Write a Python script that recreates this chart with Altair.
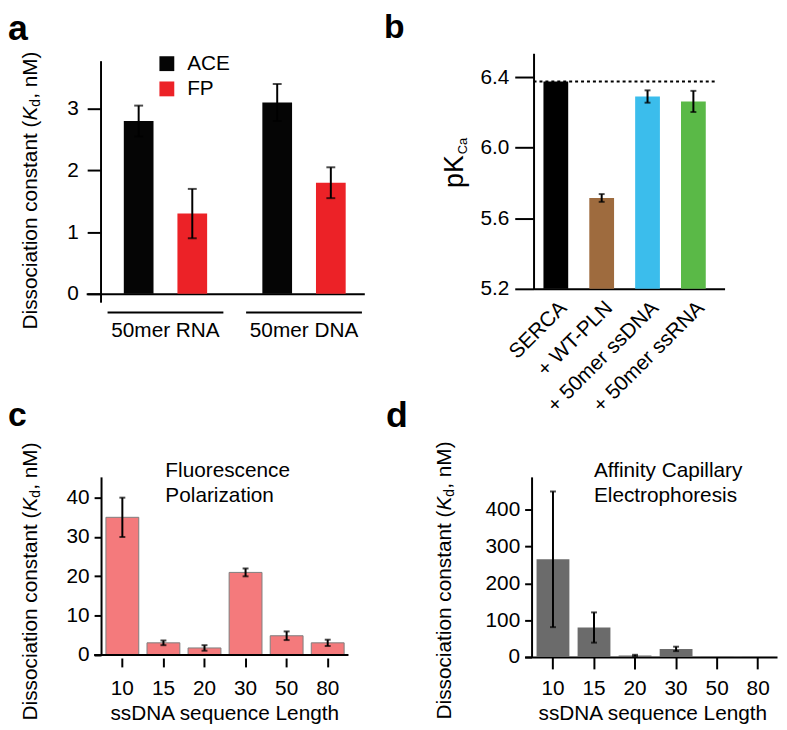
import altair as alt
import pandas as pd

FONT = "Liberation Sans"
INK = "#000000"

# ---------------- data ----------------
# panel a
a_groups = ["50mer RNA", "50mer DNA"]
a_series = ["ACE", "FP"]
a_ace = [2.8, 3.1]
a_ace_err = [0.25, 0.3]
a_fp = [1.3, 1.8]
a_fp_err = [0.4, 0.25]
a_colors = ["#050505", "#EC2227"]

# panel b
b_cats = ["SERCA", "+ WT-PLN", "+ 50mer ssDNA", "+ 50mer ssRNA"]
b_values = [6.375, 5.715, 6.29, 6.262]
b_errors = [0.0, 0.022, 0.035, 0.06]
b_colors = ["#000000", "#9E6B3E", "#3BBDEC", "#5AB947"]

# panels c and d
lengths = ["10", "15", "20", "30", "50", "80"]
c_values = [35, 3.1, 1.8, 21, 4.9, 3.1]
c_errors = [5, 0.6, 0.7, 1.0, 1.1, 0.8]
d_values = [265, 80, 4, 22, 0.8, 0.4]
d_errors = [184, 41, 2, 6, 0, 0]

a_ticks = [0, 0.5, 1, 1.5, 2, 2.5, 3, 3.5]
b_ticks = [5.2, 5.4, 5.6, 5.8, 6.0, 6.2, 6.4]
c_ticks = [0, 10, 20, 30, 40]
d_ticks = [0, 100, 200, 300, 400]

KD_MAIN = "Dissociation constant ("
KD_SYM = "K"
KD_SUB = "d"
KD_TAIL = ", nM)"
X_TITLE = "ssDNA sequence Length"
C_NOTE = "Fluorescence\nPolarization"
D_NOTE = "Affinity Capillary\nElectrophoresis"

ONE = pd.DataFrame({"k": [0]})


def text_at(txt, x, y, size=21, **kw):
    props = dict(text=txt, font=FONT, fontSize=size, color=INK)
    props.update(kw)
    return alt.Chart(ONE).mark_text(**props).encode(x=alt.value(x), y=alt.value(y))


def kd_title(bx, split):
    common = dict(angle=270, baseline="alphabetic")
    return [
        text_at(KD_MAIN, bx, split, align="right", **common),
        text_at(KD_SYM, bx, split, align="left", fontStyle="italic", **common),
        text_at(KD_SUB, bx + 3, split - 14, size=14, align="left", **common),
        text_at(KD_TAIL, bx, split - 22, align="left", **common),
    ]


def panel_label(t, x, y, size):
    return text_at(t, x, y, size=size, fontWeight="bold", align="left", baseline="alphabetic")


# ---------------- panel a ----------------
rows = []
for s, vals, errs in [("ACE", a_ace, a_ace_err), ("FP", a_fp, a_fp_err)]:
    for g, v, e in zip(a_groups, vals, errs):
        rows.append(dict(group=g, series=s, value=v, lo=v - e, hi=v + e))
adf = pd.DataFrame(rows)

WA, HA = 281, 252
xa = alt.Scale(domain=a_groups, paddingInner=0.164, paddingOuter=0.0857, align=0.9)
xoa = alt.Scale(domain=a_series, paddingInner=0.446, paddingOuter=0.303)
ya = alt.Scale(domain=[-0.144, 3.898], nice=False, zero=False)
ax_xa = alt.Axis(labels=False, ticks=False, title=None, domainWidth=2, offset=-9)
ax_ya = alt.Axis(
    values=a_ticks, title=None, domain=False, offset=-15, tickWidth=2,
    tickSize={"condition": {"test": "datum.value % 1 === 0", "value": 14}, "value": 7},
    labelExpr="datum.value % 1 === 0 ? format(datum.value, 'd') : ''", labelPadding=9,
)
Xa = alt.X("group:N", sort=a_groups, scale=xa, axis=ax_xa)
XOa = alt.XOffset("series:N", sort=a_series, scale=xoa)

a_bars = alt.Chart(adf).mark_bar().encode(
    x=Xa, xOffset=XOa,
    y=alt.Y("value:Q", scale=ya, axis=ax_ya), y2=alt.datum(0),
    color=alt.Color("series:N", sort=a_series,
                    scale=alt.Scale(domain=a_series, range=a_colors),
                    legend=alt.Legend(title=None, orient="none", legendX=71, legendY=0,
                                      symbolType="square", symbolSize=225, symbolStrokeWidth=0,
                                      labelFontSize=21, labelFont=FONT, labelColor=INK,
                                      labelOffset=10, rowPadding=3.5, padding=0)),
)
a_err = alt.Chart(adf).mark_rule(strokeWidth=2, color=INK).encode(
    x=Xa, xOffset=XOa, y=alt.Y("lo:Q", scale=ya, axis=ax_ya), y2="hi:Q")
a_caps = alt.Chart(adf).transform_fold(["lo", "hi"], as_=["end", "cap"]).mark_tick(
    size=9, thickness=2, color=INK).encode(
    x=Xa, xOffset=XOa, y=alt.Y("cap:Q", scale=ya, axis=ax_ya))
a_yline = alt.Chart(ONE).mark_rule(strokeWidth=2, color=INK).encode(
    x=alt.value(15), y=alt.datum(3.77), y2=alt.value(HA))
gdf = pd.DataFrame({"group": a_groups})
a_under = alt.Chart(gdf).mark_rect(color=INK).encode(
    x=Xa, y=alt.value(261), y2=alt.value(263))
a_glab = alt.Chart(gdf).mark_text(font=FONT, fontSize=21, color=INK, baseline="alphabetic").encode(
    x=Xa, y=alt.value(287), text="group:N")

panel_a = alt.layer(
    a_bars, a_err, a_caps, a_yline, a_under, a_glab,
    panel_label("a", -79, -13, 36), *kd_title(-49.4, 68),
).properties(width=WA, height=HA)

# ---------------- panel b ----------------
bdf = pd.DataFrame({"cat": b_cats, "value": b_values, "err": b_errors})
bdf["lo"] = bdf["value"] - bdf["err"]
bdf["hi"] = bdf["value"] + bdf["err"]
bdf_e = bdf[bdf["err"] > 0]

WB, HB = 193, 238
xb = alt.Scale(domain=b_cats, paddingInner=0.46, paddingOuter=0.313, align=0.345)
yb = alt.Scale(domain=[5.2, 6.535], nice=False, zero=False)
ax_xb = alt.Axis(ticks=False, title=None, domainWidth=2, labelAngle=-45, labelAlign="right",
                 labelBaseline="top", labelPadding=8)
ax_yb = alt.Axis(
    values=b_ticks, title=None, domainWidth=2, tickWidth=2,
    tickSize={"condition": {"test": "round(datum.value*10) % 4 === 0", "value": 19}, "value": 10},
    labelExpr="round(datum.value*10) % 4 === 0 ? format(datum.value, '.1f') : ''",
    labelPadding=6,
)
Xb = alt.X("cat:N", sort=b_cats, scale=xb, axis=ax_xb)
b_bars = alt.Chart(bdf).mark_bar().encode(
    x=Xb, y=alt.Y("value:Q", scale=yb, axis=ax_yb), y2=alt.datum(5.2),
    color=alt.Color("cat:N", sort=b_cats, scale=alt.Scale(domain=b_cats, range=b_colors), legend=None))
b_err = alt.Chart(bdf_e).mark_rule(strokeWidth=2, color=INK).encode(
    x=Xb, y=alt.Y("lo:Q", scale=yb, axis=ax_yb), y2="hi:Q")
b_caps = alt.Chart(bdf_e).transform_fold(["lo", "hi"], as_=["end", "cap"]).mark_tick(
    size=6, thickness=2, color=INK).encode(x=Xb, y=alt.Y("cap:Q", scale=yb, axis=ax_yb))
b_ref = alt.Chart(ONE).mark_rule(strokeWidth=2, color=INK, strokeDash=[3, 3]).encode(
    y=alt.datum(b_values[0]), x=alt.value(0), x2=alt.value(186))

panel_b = alt.layer(
    b_bars, b_err, b_caps, b_ref,
    panel_label("b", -151, -15, 34),
    text_at("pK", -71, 136, size=27, angle=270, align="left", baseline="alphabetic"),
    text_at("Ca", -67, 102, size=13, angle=270, align="left", baseline="alphabetic"),
).properties(width=WB, height=HB)


# ---------------- panels c, d ----------------
def length_panel(values, errors, W, H, ymax, yticks, xscale, fill, stroke, y_off,
                 x_axis, baseline_from, label, lx, ly, lsize, note, nx, kdx, kdsplit):
    df = pd.DataFrame({"len": lengths, "value": values, "err": errors})
    df["lo"] = df["value"] - df["err"]
    df["hi"] = df["value"] + df["err"]
    dfe = df[df["err"] > 0]
    ys = alt.Scale(domain=[0, ymax], nice=False)
    ax_y = alt.Axis(values=yticks, title=None, domainWidth=2, tickWidth=2, tickSize=7,
                    offset=y_off, labelPadding=5)
    X = alt.X("len:N", sort=lengths, scale=xscale, axis=x_axis)
    bar_kw = dict(color=fill)
    if stroke:
        bar_kw.update(stroke=stroke, strokeWidth=1)
    bars = alt.Chart(df).mark_bar(**bar_kw).encode(
        x=X, y=alt.Y("value:Q", scale=ys, axis=ax_y), y2=alt.datum(0))
    err = alt.Chart(dfe).mark_rule(strokeWidth=2, color=INK).encode(
        x=X, y=alt.Y("lo:Q", scale=ys, axis=ax_y), y2="hi:Q")
    caps = alt.Chart(dfe).transform_fold(["lo", "hi"], as_=["end", "cap"]).mark_tick(
        size=6, thickness=2, color=INK).encode(x=X, y=alt.Y("cap:Q", scale=ys, axis=ax_y))
    layers = [bars, err, caps]
    if baseline_from is not None:
        layers.append(alt.Chart(ONE).mark_rule(strokeWidth=2, color=INK).encode(
            y=alt.datum(0), x=alt.value(baseline_from), x2=alt.value(W)))
    layers.append(panel_label(label, lx, ly, lsize))
    layers.append(text_at(note, nx, 0, align="left", baseline="alphabetic",
                          lineBreak="\n", lineHeight=25.5))
    layers.extend(kd_title(kdx, kdsplit))
    return alt.layer(*layers).properties(width=W, height=H)


WC, HC = 265, 180
xc = alt.Scale(domain=lengths, paddingInner=0.2, paddingOuter=0.293, align=0.82)
ax_xc = alt.Axis(domain=False, offset=3, tickSize=9, tickWidth=2, labelPadding=11, labelAngle=0,
                 title=X_TITLE, titleX=139.5, titlePadding=4)
panel_c = length_panel(c_values, c_errors, WC, HC, 45.28, c_ticks, xc, "#F47A7C", "#7E7E7E", -15,
                       ax_xc, 8, "c", -79, -51, 34, C_NOTE, 80, -49.4, 35)

WD, HD = 255, 182
xd = alt.Scale(domain=lengths, paddingInner=0.2, paddingOuter=0.175, align=0.83)
ax_xd = alt.Axis(domainWidth=2, tickSize=12, tickWidth=2, labelPadding=9, labelAngle=0,
                 title=X_TITLE, titleX=129, titlePadding=4)
panel_d = length_panel(d_values, d_errors, WD, HD, 488.6, d_ticks, xd, "#6B6B6B", None, -7,
                       ax_xd, None, "d", -140, -50, 36, D_NOTE, 70, -74.4, 34)

row1 = alt.hconcat(panel_a, panel_b, spacing=171, bounds="flush").resolve_scale(color="independent")
row2 = alt.hconcat(panel_c, panel_d, spacing=178, bounds="flush")
# the flush inner rows report no height, so the vertical spacing spans row 1 as well
chart = alt.vconcat(row1, row2, spacing=428, bounds="flush").resolve_scale(
    color="independent"
).properties(
    autosize=alt.AutoSizeParams(type="none"),
    padding={"left": 79, "top": 42, "right": 700, "bottom": 680},
).configure_view(stroke=None).configure_axis(
    labelFont=FONT, titleFont=FONT, labelColor=INK, titleColor=INK, tickColor=INK,
    domainColor=INK, labelFontSize=21, titleFontSize=21, titleFontWeight="normal", grid=False,
)

chart.save("out.html", embed_options={"renderer": "svg", "actions": False})
